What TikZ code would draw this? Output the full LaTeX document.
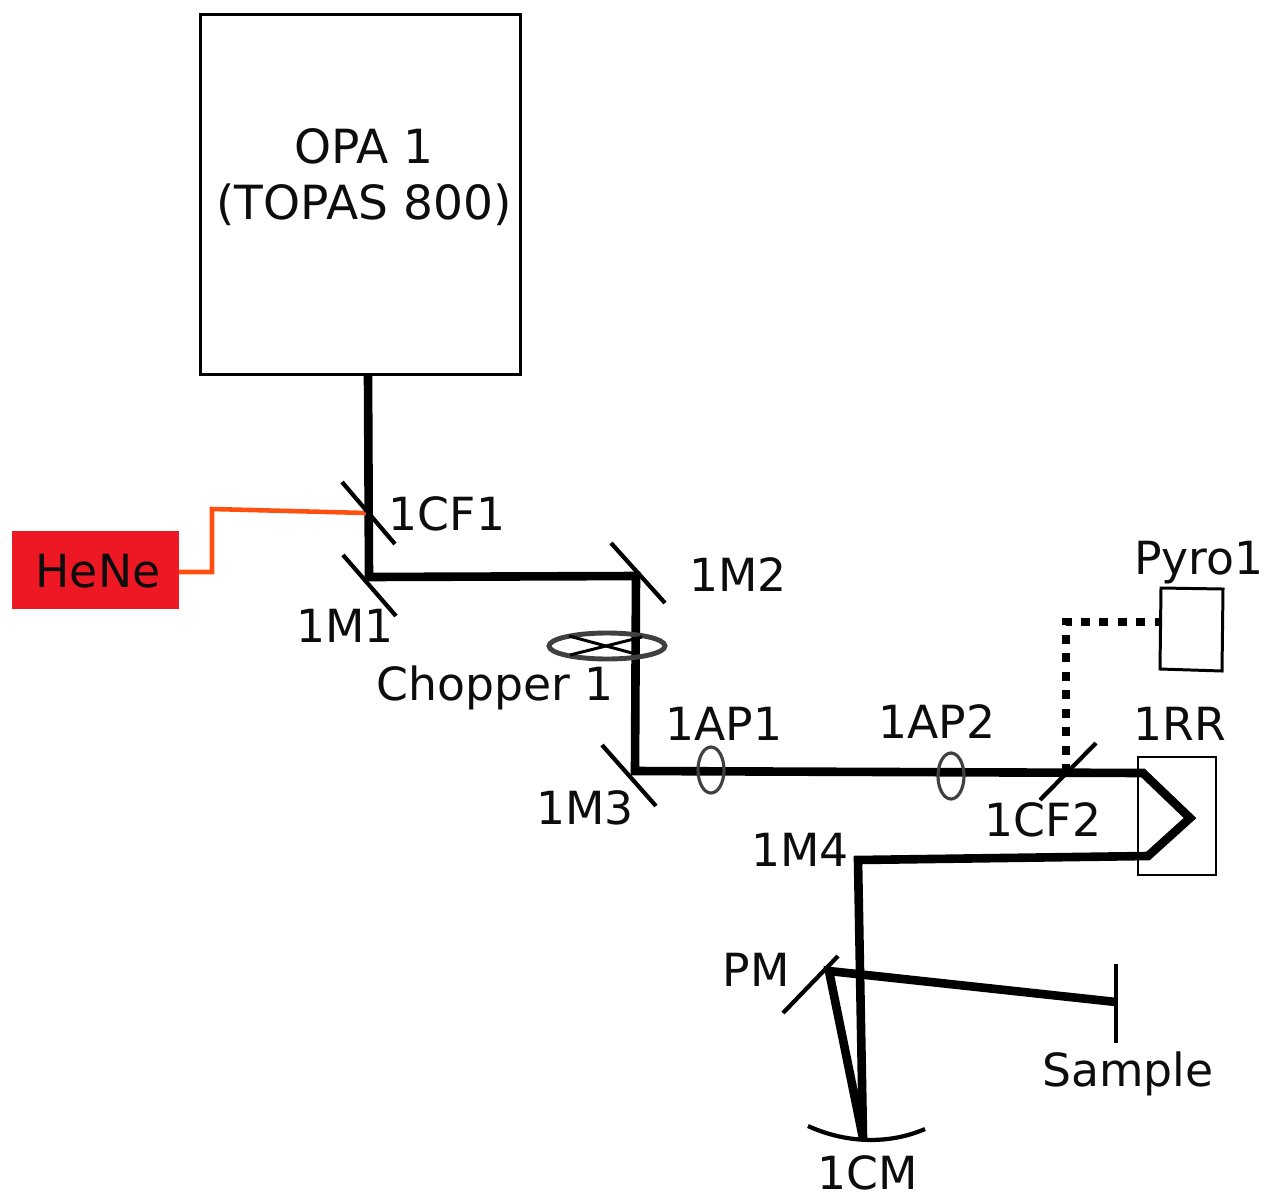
\documentclass[tikz,border=0pt]{standalone}
\usepackage{fontspec}
\setmainfont{DejaVu Sans}
\usepackage{tikz}
\tikzset{
  beam/.style={line width=4.9pt, line join=miter},
  optic/.style={line width=2.4pt},
  lens/.style={draw=black!75, line width=1.8pt},
  lbl/.style={anchor=base, font=\fontsize{26}{30}\selectfont, inner sep=0pt, text=black!95},
  lblbig/.style={lbl, font=\fontsize{26.8}{30}\selectfont},
}
\begin{document}
\begin{tikzpicture}[x=0.02cm, y=-0.02cm]
        	\useasboundingbox (0, 0) rectangle (1268, 1194);
        	% Boxes:
        	\node[draw, line width=1.7pt, minimum width=6.42cm, minimum height=7.22cm, inner sep=0pt, outer sep=0pt](opa) at (360.5, 194.5){};
        	\node[fill={rgb,255:red,237;green,24;blue,36}, minimum width=3.34cm, minimum height=1.56cm, inner sep=0pt, outer sep=0pt](hene) at (95.5, 570){};
        	\node[draw, line width=1.1pt, minimum width=1.56cm, minimum height=2.36cm, inner sep=0pt, outer sep=0pt](rrbox) at (1177, 816){};
        	% Beam points:
        	\coordinate (opaout) at (368, 375);
        	\coordinate (m1) at (369, 577);
        	\coordinate (m2) at (636, 576);
        	\coordinate (m3) at (635, 771);
        	\coordinate (rrin) at (1143, 773);
        	\coordinate (rrtip) at (1190, 818);
        	\coordinate (rrout) at (1148, 856);
        	\coordinate (m4) at (858, 860);
        	\coordinate (cm) at (863, 1138);
        	\coordinate (pm) at (829, 971);
        	\coordinate (sample) at (1116, 1002);
        	\coordinate (cf1) at (366, 513);
        	\coordinate (cf2) at (1066, 773);
        	\coordinate (pyroin) at (1160, 622);
        	% Beams:
        	\draw[beam] (opaout) -- (m1) -- (m2) -- (m3) -- (rrin) -- (rrtip) -- (rrout) -- (m4) -- (cm) -- (pm) -- (sample);
        	\draw[line width=2.6pt, color={rgb,255:red,255;green,80;blue,16}] (hene.east |- 0, 572) -- (212, 572) -- (212, 509) -- (cf1);
        	\draw[line width=5pt, dash pattern=on 5.1pt off 5.4pt] (cf2) |- (pyroin);
        	% Mirrors:
        	\draw[optic] (342, 482) -- (395, 544);
        	\draw[optic] (343, 555) -- (396, 616);
        	\draw[optic] (611, 543) -- (665, 603);
        	\draw[optic] (602, 745) -- (656, 806);
        	\draw[optic] (1040, 800) -- (1096, 743);
        	\draw[optic] (783, 1013) -- (838, 956);
        	\draw[optic] (1116, 964) -- (1116, 1043);
        	\draw[optic] (808, 1126) .. controls (845, 1143) and (888, 1145) .. (925, 1129);
        	% Chopper and apertures:
        	\draw[draw=black!75, line width=2.8pt] (607, 646) circle [x radius=58, y radius=13];
        	\draw[line width=1.7pt] (569, 636) -- (632, 653);
        	\draw[line width=1.7pt] (570, 655) -- (642, 637);
        	\draw[lens] (711, 770) circle [x radius=13, y radius=23];
        	\draw[lens] (951, 776) circle [x radius=13, y radius=23];
        	% Pyro:
        	\draw[line width=1.7pt] (1161, 588) -- (1223, 589) -- (1222, 671) -- (1160, 669) -- cycle;
        	% Labels:
        	\node[lblbig](N1) at (364, 163){OPA 1};
        	\node[lblbig](N2) at (364, 219){(TOPAS 800)};
        	\node[lbl](N3) at (98, 587){HeNe};
        	\node[lbl](N4) at (447, 530){1CF1};
        	\node[lbl](N5) at (345, 642){1M1};
        	\node[lbl](N6) at (738, 591){1M2};
        	\node[lbl](N7) at (495, 700){Chopper 1};
        	\node[lbl](N8) at (724, 740){1AP1};
        	\node[lbl](N9) at (937, 738){1AP2};
        	\node[lbl](N10) at (585, 824){1M3};
        	\node[lbl](N11) at (1043, 836){1CF2};
        	\node[lbl](N12) at (800, 866){1M4};
        	\node[lbl](N13) at (1180, 740){1RR};
        	\node[lbl](N14) at (1199, 574){Pyro1};
        	\node[lbl](N15) at (756, 986){PM};
        	\node[lbl](N16) at (1128, 1086){Sample};
        	\node[lbl](N17) at (868, 1189){1CM};
\end{tikzpicture}
\end{document}
